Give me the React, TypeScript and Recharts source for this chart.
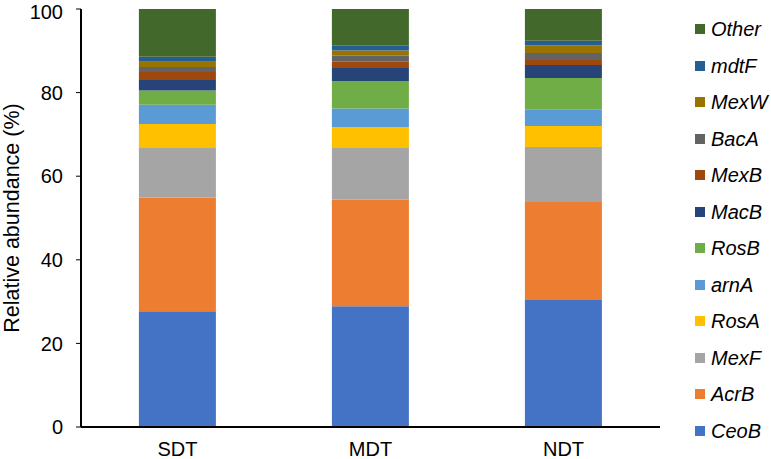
import { BarChart, Bar, XAxis, YAxis } from 'recharts';

document.body.style.margin = '0';

const groups = ['SDT', 'MDT', 'NDT'];

// bottom to top stacking order
const genes = ['CeoB', 'AcrB', 'MexF', 'RosA', 'arnA', 'RosB', 'MacB', 'MexB', 'BacA', 'MexW', 'mdtF', 'Other'];
const colors = ['#4472C4', '#ED7D31', '#A5A5A5', '#FFC000', '#5B9BD5', '#70AD47', '#264478', '#9E480E', '#636363', '#997300', '#255E91', '#43682B'];

const CeoB = [27.7, 28.9, 30.4];
const AcrB = [27.2, 25.5, 23.4];
const MexF = [12.0, 12.5, 13.2];
const RosA = [5.6, 4.9, 5.0];
const arnA = [4.6, 4.4, 3.9];
const RosB = [3.4, 6.5, 7.6];
const MacB = [2.5, 3.2, 3.1];
const MexB = [1.9, 1.5, 1.2];
const BacA = [1.2, 1.4, 1.7];
const MexW = [1.3, 1.3, 1.8];
const mdtF = [1.2, 1.1, 1.1];
const Other = [11.4, 8.8, 7.6];

const yTicks = [0, 20, 40, 60, 80, 100];

const seriesValues = [CeoB, AcrB, MexF, RosA, arnA, RosB, MacB, MexB, BacA, MexW, mdtF, Other];

const data = groups.map((g, i) => {
  const row: Record<string, string | number> = { name: g };
  genes.forEach((gene, k) => {
    row[gene] = seriesValues[k][i];
  });
  return row;
});

const font = '"Liberation Sans", Arial, sans-serif';

function GeneLegend() {
  const items = genes.map((g, i) => ({ g, c: colors[i] })).reverse();
  return (
    <div style={{ position: 'absolute', left: 695, top: 11, fontFamily: font }}>
      {items.map((it) => (
        <div key={it.g} style={{ display: 'flex', alignItems: 'center', height: 36.5 }}>
          <span style={{ width: 10, height: 10, background: it.c, display: 'inline-block', marginRight: 6 }} />
          <span style={{ fontStyle: 'italic', fontSize: 20, color: '#000', lineHeight: '20px' }}>{it.g}</span>
        </div>
      ))}
    </div>
  );
}

function YTitle(props: any) {
  const vb = props.viewBox || { y: 9, height: 418 };
  const cy = vb.y + vb.height / 2;
  return (
    <text
      x={12}
      y={cy}
      transform={`rotate(-90, 12, ${cy})`}
      textAnchor="middle"
      dominantBaseline="central"
      fill="#000"
      fontSize={21.5}
      fontFamily={font}
    >
      Relative abundance (%)
    </text>
  );
}

export default function App() {
  return (
    <div style={{ width: 771, height: 459, background: '#fff', position: 'relative' }}>
      <BarChart
        width={771}
        height={459}
        data={data}
        margin={{ top: 9, right: 111, bottom: 0, left: 0 }}
        barCategoryGap="30%"
      >
        <XAxis
          dataKey="name"
          axisLine={{ stroke: '#000', strokeWidth: 2 }}
          tickLine={false}
          tick={{ fill: '#000', fontSize: 20, fontFamily: font }}
          tickMargin={9}
          height={32}
        />
        <XAxis
          xAxisId="top"
          dataKey="name"
          orientation="top"
          axisLine={{ stroke: '#000', strokeWidth: 2 }}
          tickLine={false}
          tick={false}
          height={0}
        />
        <YAxis
          domain={[0, 100]}
          ticks={yTicks}
          axisLine={{ stroke: '#000', strokeWidth: 2 }}
          tickLine={{ stroke: '#000', strokeWidth: 1 }}
          tickSize={5}
          tickMargin={13}
          tick={{ fill: '#000', fontSize: 20, fontFamily: font }}
          width={81}
          label={<YTitle />}
        />
        <YAxis
          yAxisId="right"
          orientation="right"
          domain={[0, 100]}
          axisLine={{ stroke: '#000', strokeWidth: 2 }}
          tickLine={false}
          tick={false}
          width={0}
        />
        {genes.map((g, i) => (
          <Bar key={g} dataKey={g} stackId="a" fill={colors[i]} isAnimationActive={false} />
        ))}
      </BarChart>
      <GeneLegend />
    </div>
  );
}
